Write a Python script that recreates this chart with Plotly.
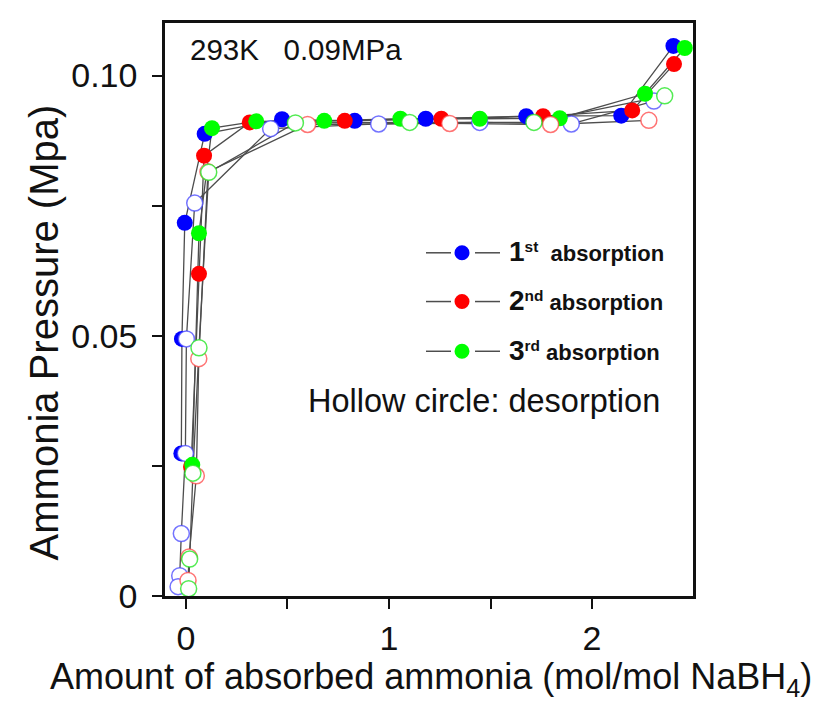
import plotly.graph_objects as go

# ---------------- data ----------------
abs1_x = [-0.023, -0.020, -0.006, 0.092, 0.473, 0.831, 1.181, 1.676, 2.144, 2.401]
abs1_y = [0.0274, 0.0494, 0.0717, 0.0888, 0.0916, 0.0913, 0.0917, 0.0922, 0.0923, 0.1057]

abs2_x = [0.025, 0.064, 0.089, 0.314, 0.782, 1.258, 1.759, 2.198, 2.404]
abs2_y = [0.0248, 0.0619, 0.0846, 0.0910, 0.0913, 0.0917, 0.0922, 0.0933, 0.1022]

abs3_x = [0.031, 0.064, 0.128, 0.346, 0.681, 1.056, 1.447, 1.841, 2.261, 2.457]
abs3_y = [0.0252, 0.0697, 0.0899, 0.0912, 0.0913, 0.0917, 0.0917, 0.0918, 0.0965, 0.1053]

des1_x = [2.305, 1.898, 1.447, 0.949, 0.417, 0.043, 0.002, -0.003, -0.023, -0.031, -0.039]
des1_y = [0.0951, 0.0907, 0.0910, 0.0907, 0.0898, 0.0755, 0.0494, 0.0274, 0.012, 0.0039, 0.0018]

des2_x = [2.28, 1.796, 1.299, 0.599, 0.108, 0.063, 0.051, 0.015, 0.010]
des2_y = [0.0914, 0.0906, 0.0908, 0.0906, 0.0815, 0.0456, 0.0231, 0.0075, 0.003]

des3_x = [2.358, 1.714, 1.102, 0.539, 0.112, 0.064, 0.034, 0.018, 0.013]
des3_y = [0.0961, 0.0910, 0.0910, 0.0909, 0.0814, 0.0477, 0.0236, 0.0071, 0.0014]

legend_labels = ["1<sup>st</sup>&nbsp;&nbsp;absorption", "2<sup>nd</sup> absorption", "3<sup>rd</sup> absorption"]
x_tickvals = [0, 1, 2]
x_ticktext = ["0", "1", "2"]
y_tickvals = [0, 0.05, 0.10]
y_ticktext = ["0", "0.05", "0.10"]

FONT = "Liberation Sans, Arial, sans-serif"
BLUE, RED, GREEN = "#0000ff", "#ff0000", "#00ff00"
LINE = "#4d4d4d"

fig = go.Figure()

series = [
    (abs1_x, abs1_y, BLUE, True),
    (des1_x, des1_y, BLUE, False),
    (abs2_x, abs2_y, RED, True),
    (abs3_x, abs3_y, GREEN, True),
    (des2_x, des2_y, RED, False),
    (des3_x, des3_y, GREEN, False),
]

# connecting lines first (below all markers)
for xs, ys, col, filled in series:
    fig.add_trace(go.Scatter(x=xs, y=ys, mode="lines", cliponaxis=False,
                             line=dict(color=LINE, width=1.3),
                             showlegend=False, hoverinfo="skip"))

rgba = {BLUE: "rgba(70,70,255,0.75)", RED: "rgba(255,70,70,0.75)", GREEN: "rgba(40,230,40,0.8)"}
for xs, ys, col, filled in series:
    if filled:
        mk = dict(size=16, color=col, line=dict(width=0))
    else:
        mk = dict(size=16, color="white", line=dict(color=rgba[col], width=1.5))
    fig.add_trace(go.Scatter(x=xs, y=ys, mode="markers", marker=mk, cliponaxis=False,
                             showlegend=False))

# ---------------- layout ----------------
W, H = 826, 702
L, R, T, B = 157, 141, 12, 114
pw, ph = W - L - R, H - T - B


def px(x):
    return (x - L) / pw


def py(y):
    return (H - B - y) / ph


shapes = []
annotations = []
leg_rows = [243, 292, 342]
leg_cols = [BLUE, RED, GREEN]
for yy, col, lab in zip(leg_rows, leg_cols, legend_labels):
    for x0, x1 in [(418, 443), (467, 492)]:
        shapes.append(dict(type="line", xref="paper", yref="paper",
                           x0=px(x0), x1=px(x1), y0=py(yy), y1=py(yy),
                           line=dict(color=LINE, width=1.5)))
    shapes.append(dict(type="circle", xref="paper", yref="paper",
                       x0=px(454 - 7.5), x1=px(454 + 7.5), y0=py(yy + 7.5), y1=py(yy - 7.5),
                       fillcolor=col, line=dict(width=0)))
    num, rest = lab.split("<sup>", 1)
    txt = "<b><span style='font-size:28px'>" + num + "</span><sup>" + rest + "</b>"
    annotations.append(dict(xref="paper", yref="paper", x=px(499), y=py(yy - 1),
                            xanchor="left", yanchor="middle", showarrow=False,
                            text=txt, font=dict(family=FONT, size=22, color="#111")))

annotations.append(dict(xref="paper", yref="paper", x=px(298), y=py(392),
                        xanchor="left", yanchor="middle", showarrow=False,
                        text="Hollow circle: desorption",
                        font=dict(family=FONT, size=32.5, color="#111")))
annotations.append(dict(xref="paper", yref="paper", x=px(180), y=py(39),
                        xanchor="left", yanchor="middle", showarrow=False,
                        text="293K&nbsp;&nbsp;&nbsp;0.09MPa",
                        font=dict(family=FONT, size=29.5, color="#111")))
# axis titles
annotations.append(dict(xref="paper", yref="paper", x=px(423), y=py(671),
                        xanchor="center", yanchor="middle", showarrow=False,
                        text="Amount of absorbed ammonia (mol/mol NaBH<sub>4</sub>)",
                        font=dict(family=FONT, size=36, color="#111")))
annotations.append(dict(xref="paper", yref="paper", x=px(36), y=py(323),
                        xanchor="center", yanchor="middle", showarrow=False, textangle=-90,
                        text="Ammonia Pressure (Mpa)",
                        font=dict(family=FONT, size=40, color="#111")))

fig.update_layout(
    width=W, height=H,
    margin=dict(l=L, r=R, t=T, b=B),
    paper_bgcolor="white", plot_bgcolor="white",
    font=dict(family=FONT, color="#111"),
    shapes=shapes, annotations=annotations,
    showlegend=False,
)
fig.update_xaxes(
    range=[-0.1034, 2.4975], tickvals=x_tickvals, ticktext=x_ticktext,
    ticks="outside", ticklen=10, tickwidth=2, tickcolor="#111",
    minor=dict(tickvals=[0.5, 1.5], ticks="outside", ticklen=10, tickwidth=2, tickcolor="#111"),
    showline=True, linewidth=2.5, linecolor="#111", mirror=True,
    showgrid=False, zeroline=False,
    tickfont=dict(family=FONT, size=34),
)
fig.update_yaxes(
    range=[0, 0.1101], tickvals=y_tickvals, ticktext=y_ticktext,
    ticks="outside", ticklen=10, tickwidth=2, tickcolor="#111",
    minor=dict(tickvals=[0.025, 0.075], ticks="outside", ticklen=10, tickwidth=2, tickcolor="#111"),
    showline=True, linewidth=2.5, linecolor="#111", mirror=True,
    showgrid=False, zeroline=False, ticklabelstandoff=8,
    tickfont=dict(family=FONT, size=34),
)

fig.write_html("out.html")
